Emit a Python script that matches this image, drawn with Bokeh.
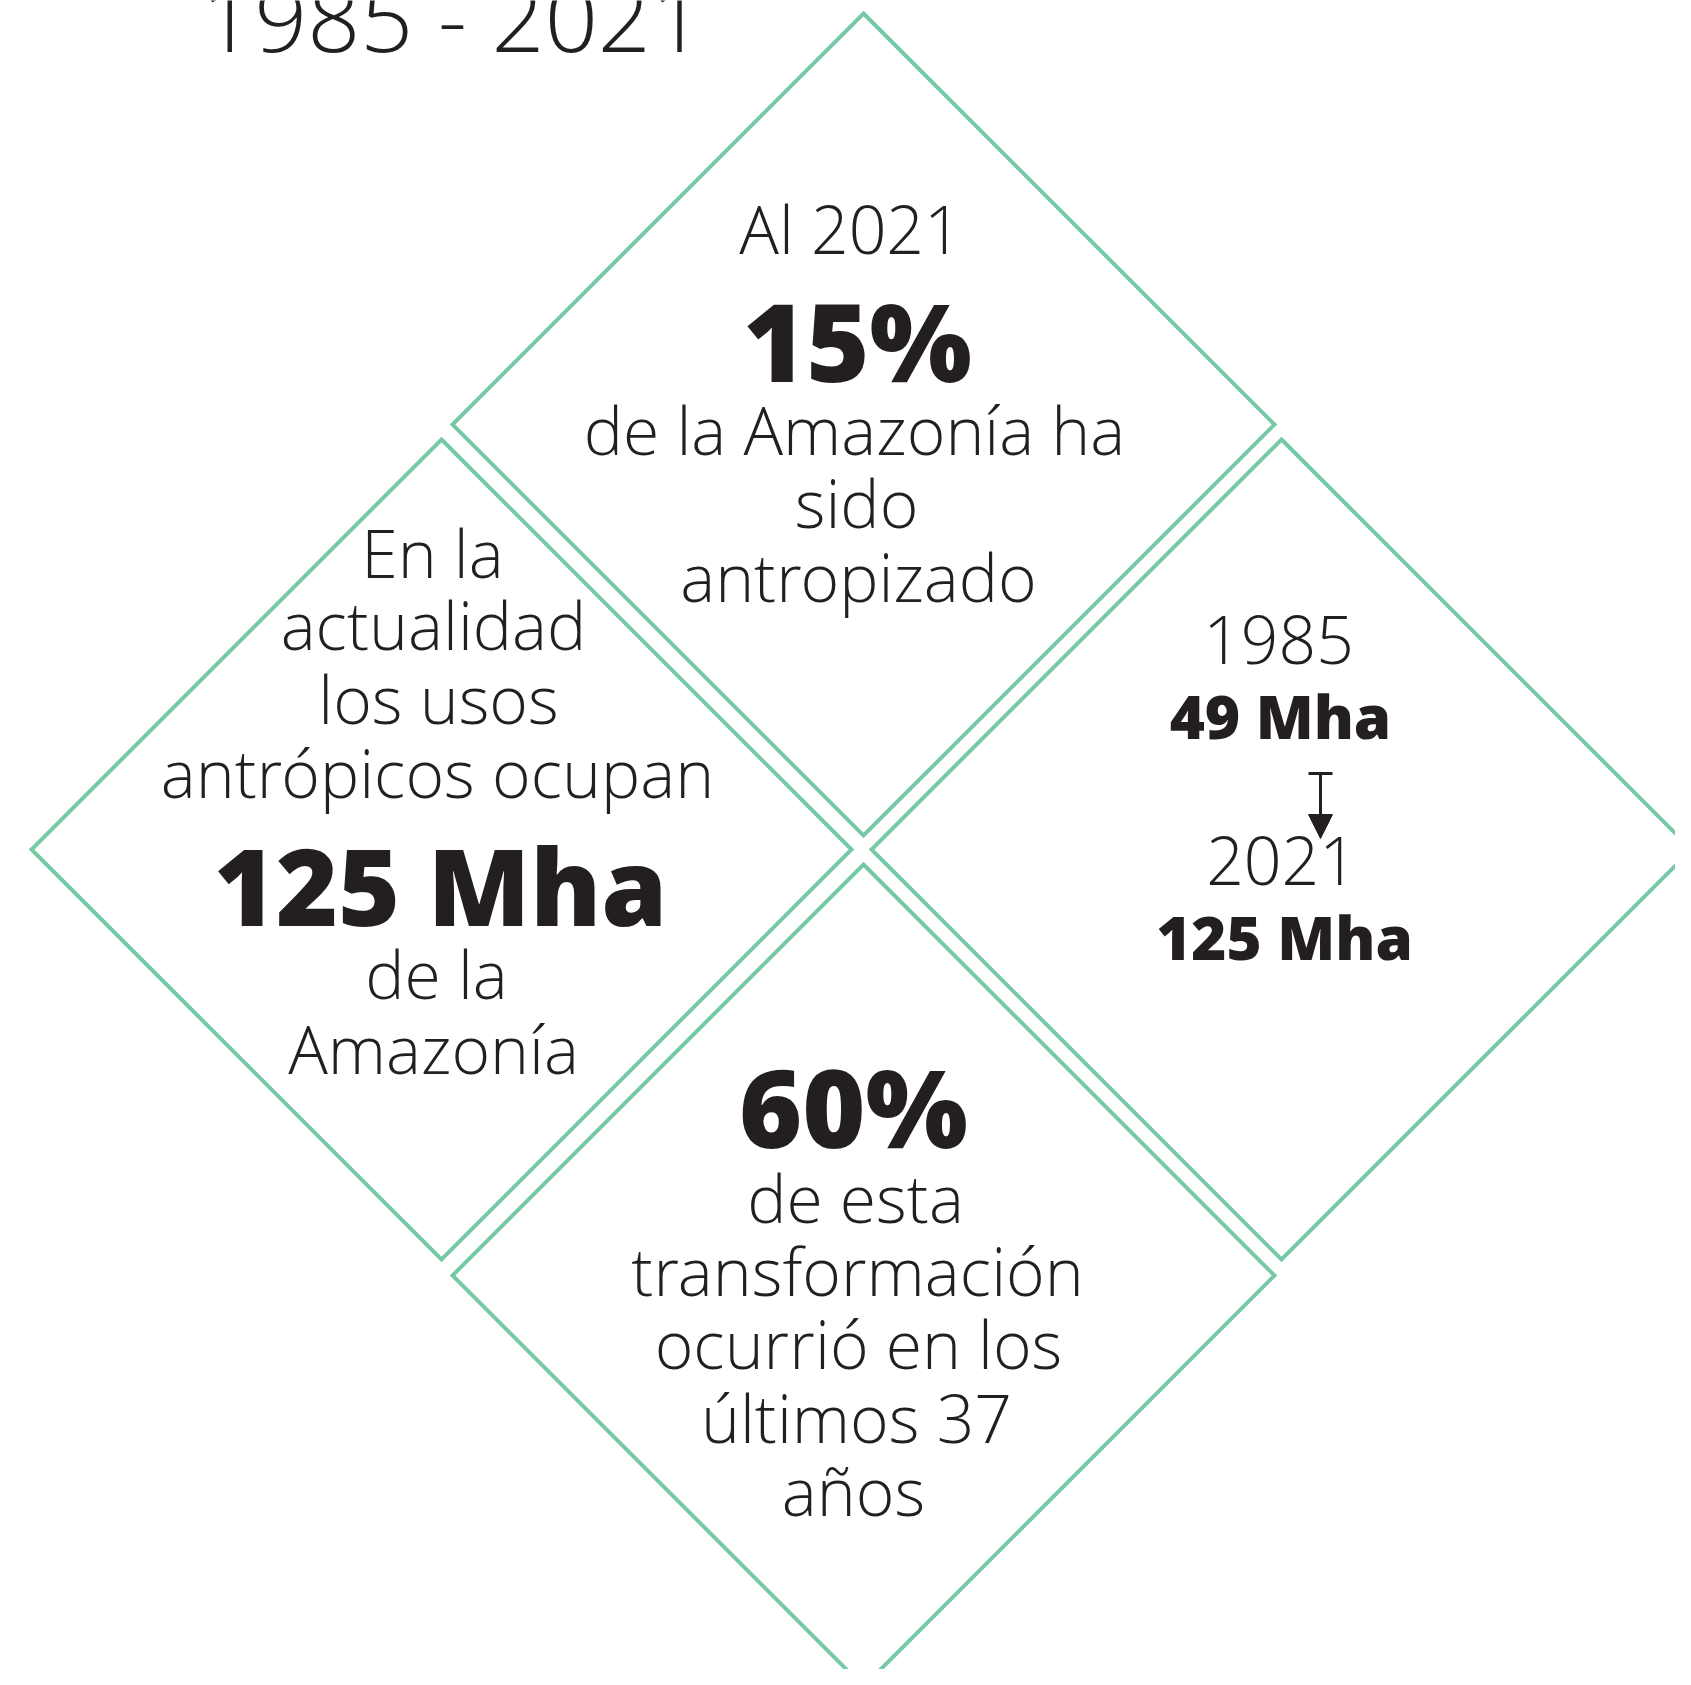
from bokeh.plotting import figure
from bokeh.models import ColumnDataSource, Range1d, Arrow, NormalHead, TeeHead
from bokeh.core.properties import value
from bokeh.embed import file_html
from bokeh.resources import INLINE

# ---------------- content ----------------
title_text = "1985 - 2021"

top_lead = "Al 2021"
top_value = "15%"
top_tail = ["de la Amazonía ha", "sido", "antropizado"]

left_lead = ["En la", "actualidad", "los usos", "antrópicos ocupan"]
left_value = "125 Mha"
left_tail = ["de la", "Amazonía"]

right_year_start = "1985"
right_value_start = "49 Mha"
right_year_end = "2021"
right_value_end = "125 Mha"

bottom_value = "60%"
bottom_tail = ["de esta", "transformación", "ocurrió en los", "últimos 37", "años"]

# ---------------- layout (page pixels, y downwards) ----------------
W, H = 1675, 1669
diamond_cx = [863, 441, 1281, 863]
diamond_cy = [424, 849, 849, 1275]
diamond_half = [411, 410, 410, 411]

LINE_COLOR = "#76C9A5"
TEXT_COLOR = "#231F20"
LIGHT = "Open Sans Light"
BOLD = "Open Sans ExtraBold"
BASE_K = 0.388  # baseline correction (fraction of font size)

p = figure(width=W, height=H, output_backend="svg", toolbar_location=None,
           x_axis_type=None, y_axis_type=None, min_border=0,
           x_range=Range1d(0, W), y_range=Range1d(H, 0))
p.grid.visible = False
p.outline_line_color = None
p.background_fill_color = "white"
p.border_fill_color = "white"

# diamonds
xs, ys = [], []
for cx, cy, h in zip(diamond_cx, diamond_cy, diamond_half):
    xs.append([cx, cx + h, cx, cx - h])
    ys.append([cy - h, cy, cy + h, cy])
p.patches(xs=xs, ys=ys, fill_color=None, line_color=LINE_COLOR, line_width=4,
          line_join="miter")

def add_text(texts, xs_, baselines, size, bold=False):
    yy = [b - BASE_K * size for b in baselines]
    src = ColumnDataSource(dict(x=xs_, y=yy, text=texts))
    p.text(x="x", y="y", text="text", source=src,
           text_font=value(BOLD if bold else LIGHT),
           text_font_style="bold" if bold else "normal",
           text_font_size=f"{size}px", text_color=TEXT_COLOR,
           text_align="center", text_baseline="alphabetic")

REG = 66

# title
add_text([title_text], [452], [52], 93)

# top diamond
add_text([top_lead], [850], [253], REG)
add_text([top_value], [857], [382], 108, bold=True)
add_text(top_tail, [854, 856, 858], [454, 527, 601], REG)

# left diamond
add_text(left_lead, [432, 433, 438, 437], [577, 649, 723, 797], REG)
add_text([left_value], [440], [926], 106, bold=True)
add_text(left_tail, [436, 433], [998, 1073], REG)

# right diamond
add_text([right_year_start, right_year_end], [1278, 1281], [665, 886], REG)
add_text([right_value_start, right_value_end], [1280, 1284], [739, 960], 60, bold=True)
p.add_layout(Arrow(start=TeeHead(size=24, line_color=TEXT_COLOR, line_width=3),
                   end=NormalHead(size=24, fill_color=TEXT_COLOR, line_color=TEXT_COLOR, line_width=1),
                   x_start=1320, y_start=773, x_end=1320, y_end=838,
                   line_color=TEXT_COLOR, line_width=3))

# bottom diamond
add_text([bottom_value], [853], [1148], 108, bold=True)
add_text(bottom_tail, [855, 857, 858, 856, 853], [1222, 1295, 1368, 1442, 1515], REG)

open("out.html", "w").write(file_html(p, INLINE))
